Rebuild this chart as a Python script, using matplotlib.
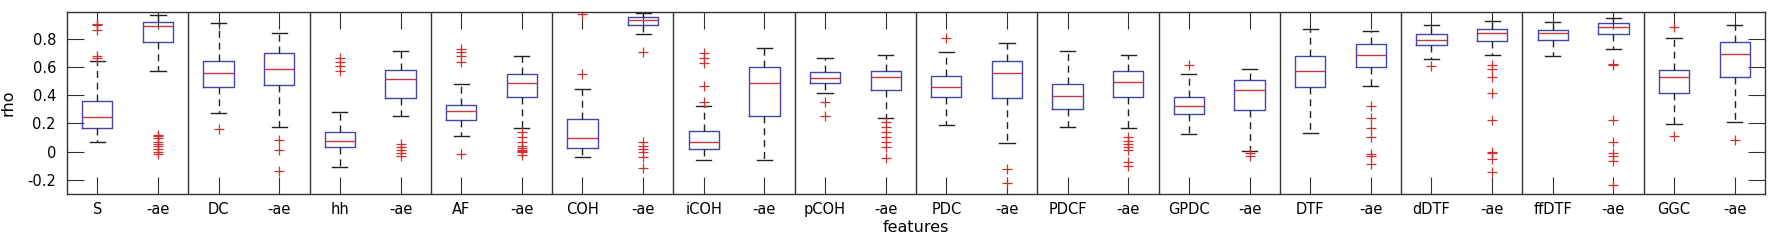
import matplotlib
matplotlib.use("Agg")
import matplotlib.pyplot as plt

# features (each followed by its "-ae" variant)
features = ["S", "DC", "hh", "AF", "COH", "iCOH", "pCOH", "PDC", "PDCF",
            "GPDC", "DTF", "dDTF", "ffDTF", "GGC"]
labels = []
for f in features:
    labels += [f, "-ae"]

# box statistics, one entry per box
whislo = [0.066, 0.575, 0.272, 0.173, -0.107, 0.256, 0.111, 0.170, -0.038, 0.833,
          -0.062, -0.057, 0.417, 0.241, 0.189, 0.064, 0.175, 0.168, 0.128, 0.007,
          0.133, 0.462, 0.658, 0.687, 0.675, 0.727, 0.199, 0.213]
q1 = [0.168, 0.774, 0.459, 0.471, 0.031, 0.381, 0.227, 0.384, 0.026, 0.900,
      0.017, 0.256, 0.485, 0.438, 0.384, 0.381, 0.303, 0.386, 0.268, 0.298,
      0.459, 0.597, 0.753, 0.786, 0.788, 0.836, 0.417, 0.526]
med = [0.244, 0.890, 0.556, 0.585, 0.073, 0.514, 0.291, 0.488, 0.095, 0.935,
       0.071, 0.488, 0.521, 0.528, 0.457, 0.561, 0.398, 0.492, 0.327, 0.440,
       0.573, 0.682, 0.793, 0.840, 0.838, 0.885, 0.528, 0.689]
q3 = [0.362, 0.919, 0.644, 0.701, 0.142, 0.578, 0.334, 0.549, 0.232, 0.954,
      0.144, 0.599, 0.566, 0.571, 0.535, 0.642, 0.478, 0.573, 0.386, 0.509,
      0.679, 0.762, 0.831, 0.866, 0.862, 0.914, 0.580, 0.779]
whishi = [0.641, 0.966, 0.914, 0.838, 0.282, 0.717, 0.481, 0.679, 0.445, 0.985,
          0.324, 0.736, 0.663, 0.684, 0.710, 0.769, 0.715, 0.684, 0.552, 0.585,
          0.866, 0.855, 0.895, 0.926, 0.919, 0.947, 0.805, 0.895]
fliers = [
    [0.905, 0.895, 0.86, 0.68, 0.665],
    [0.12, 0.11, 0.095, 0.07, 0.055, 0.04, 0.02, 0.0, -0.02],
    [0.161],
    [0.085, 0.012, -0.140],
    [0.665, 0.634, 0.605, 0.575],
    [0.052, 0.031, 0.01, -0.012, -0.034],
    [0.729, 0.705, 0.677, 0.634, -0.017],
    [0.137, 0.102, 0.066, 0.043, 0.025, 0.012, 0.004, -0.005, -0.025],
    [0.978, 0.552],
    [0.710, 0.066, 0.043, 0.02, -0.005, -0.036, -0.118],
    [0.701, 0.665, 0.630, 0.464, 0.350],
    [],
    [0.350, 0.251],
    [0.208, 0.173, 0.137, 0.102, 0.066, 0.031, -0.047],
    [0.805],
    [-0.125, -0.220],
    [],
    [0.102, 0.078, 0.054, 0.031, 0.015, -0.076, -0.099],
    [0.616],
    [-0.012, -0.033],
    [],
    [0.327, 0.239, 0.166, 0.107, -0.017, -0.028, -0.088],
    [0.604],
    [0.611, 0.587, 0.528, 0.417, 0.225, 0.0, -0.009, -0.052, -0.147],
    [],
    [0.623, 0.611, 0.227, 0.066, -0.009, -0.028, -0.069, -0.234],
    [0.883, 0.114],
    [0.083],
]

stats = []
for i in range(len(labels)):
    stats.append(dict(whislo=whislo[i], q1=q1[i], med=med[i], q3=q3[i],
                      whishi=whishi[i], fliers=fliers[i]))

fig = plt.figure(figsize=(17.72, 2.46), dpi=100)
ax = fig.add_axes([67 / 1772, 1 - 194 / 246, (1765 - 67) / 1772, (194 - 12) / 246])

pos = list(range(1, len(labels) + 1))
ax.bxp(stats, positions=pos, widths=0.5, showfliers=True,
       boxprops=dict(color="#4444aa", linewidth=1.0),
       medianprops=dict(color="#c43a40", linewidth=1.0),
       whiskerprops=dict(color="#222222", linewidth=1.0, linestyle=(0, (5, 3.5))),
       capprops=dict(color="#222222", linewidth=1.0),
       capwidths=0.25,
       flierprops=dict(marker="+", markeredgecolor="#d03030", markersize=6.5,
                       markeredgewidth=0.9, linestyle="none"))

# separators between feature groups
for k in range(1, len(features)):
    ax.axvline(2 * k + 0.5, color="#333333", linewidth=1.0)

ax.set_xlim(0.5, len(labels) + 0.5)
ax.set_ylim(-0.3, 0.99)
ax.set_yticks([-0.2, 0, 0.2, 0.4, 0.6, 0.8])
ax.set_yticklabels(["-0.2", "0", "0.2", "0.4", "0.6", "0.8"])
ax.set_xticks(pos)
ax.set_xticklabels(labels)
ax.tick_params(direction="in", length=12, width=0.8, color="#333333",
               top=True, right=True, labelsize=10.5)
ax.tick_params(axis="x", pad=6)
ax.tick_params(axis="y", pad=8)
for s in ax.spines.values():
    s.set_color("#333333")
    s.set_linewidth(1.0)

ax.set_xlabel("features", fontsize=11.5, labelpad=2)
ax.set_ylabel("rho", fontsize=11.5, labelpad=8)

fig.savefig("out.png", dpi=100)
